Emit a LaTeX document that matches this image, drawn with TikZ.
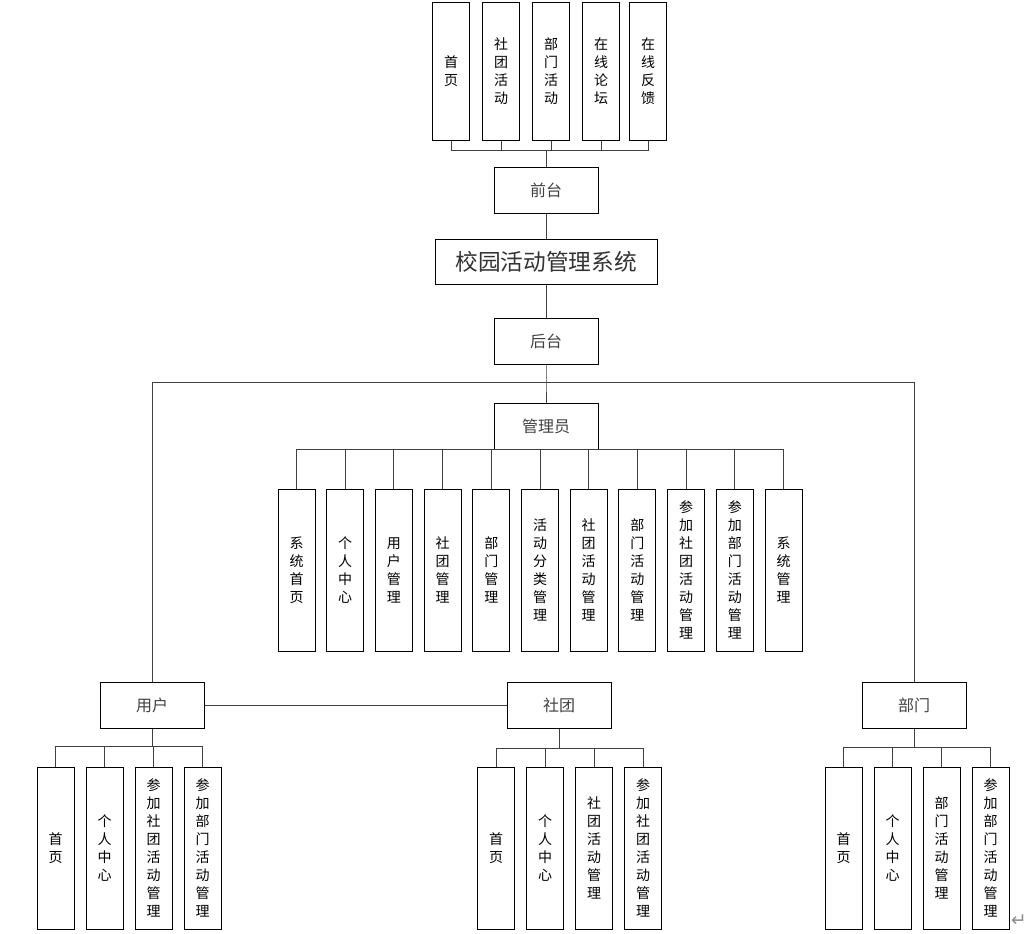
\documentclass[tikz,border=0pt]{standalone}
\usepackage{fontspec}
\setmainfont{Noto Sans CJK SC}
\newfontfamily\markfont{DejaVu Sans}
\usetikzlibrary{positioning}

\begin{document}
\begin{tikzpicture}
  [
  x=0.75pt, y=-0.75pt, line width=0.75pt, draw=black,
  font=\fontsize{10.5}{13.5}\selectfont,
  levelnode/.style={rectangle, draw=black, inner sep=0pt, minimum width=78pt, minimum height=34.5pt, text=black!75, font=\fontsize{12}{14}\selectfont},
  titlenode/.style={rectangle, draw=black, inner sep=0pt, minimum width=166.5pt, minimum height=33.75pt, text=black!80, font=\fontsize{17}{20}\selectfont},
  topnode/.style={rectangle, draw=black, inner sep=0pt, minimum width=27.75pt, minimum height=103.5pt, align=center},
  leafnode/.style={rectangle, draw=black, inner sep=0pt, minimum width=27.75pt, minimum height=121.5pt, align=center},
  link/.style={draw=black!75, line width=0.75pt},
  ]
  \useasboundingbox (0,0) rectangle (1035,933);

  % main line
  \node[titlenode] (sys) at (546,261.5) {校园活动管理系统};
  \node[levelnode] (qt) at (546,190) {前台};
  \node[levelnode] (ht) at (546,341) {后台};
  \node[levelnode] (gly) at (546,426) {管理员};
  \node[levelnode] (yh) at (152,705) {用户};
  \node[levelnode] (st) at (559,705) {社团};
  \node[levelnode] (bm) at (914,705) {部门};

  \draw[link] (qt.south) -- (sys.north);
  \draw[link] (sys.south) -- (ht.north);
  \coordinate (split) at (546,382);
  \draw[link] (ht.south) -- (split) -- (gly.north);
  \draw[link] (yh.north) |- (split) -| (bm.north);
  \draw[link] (yh.east) -- (st.west);

  % front end
  \coordinate (tbus) at (546,150);
  \foreach \lbl/\x [count=\i] in {{首\\页}/451,{社\\团\\活\\动}/501,{部\\门\\活\\动}/551,{在\\线\\论\\坛}/601,{在\\线\\反\\馈}/648} {
    \node[topnode] (t\i) at (\x,71) {\lbl};
    \draw[link] (t\i.south) |- (tbus) -- (qt.north);
  }

  % admin
  \foreach \lbl [count=\i] in {{系\\统\\首\\页},{个\\人\\中\\心},{用\\户\\管\\理},{社\\团\\管\\理},{部\\门\\管\\理},{活\\动\\分\\类\\管\\理},{社\\团\\活\\动\\管\\理},{部\\门\\活\\动\\管\\理},{参\\加\\社\\团\\活\\动\\管\\理},{参\\加\\部\\门\\活\\动\\管\\理},{系\\统\\管\\理}} {
    \node[leafnode] (a\i) at ({296.5+48.7*(\i-1)},570) {\lbl};
    \draw[link] (a\i.north) |- (gly.south);
  }

  % user
  \coordinate (ubus) at (152,746);
  \foreach \lbl [count=\i] in {{首\\页},{个\\人\\中\\心},{参\\加\\社\\团\\活\\动\\管\\理},{参\\加\\部\\门\\活\\动\\管\\理}} {
    \node[leafnode] (u\i) at ({55.5+49*(\i-1)},848) {\lbl};
    \draw[link] (u\i.north) |- (ubus) -- (yh.south);
  }

  % club
  \coordinate (sbus) at (559,748);
  \foreach \lbl [count=\i] in {{首\\页},{个\\人\\中\\心},{社\\团\\活\\动\\管\\理},{参\\加\\社\\团\\活\\动\\管\\理}} {
    \node[leafnode] (s\i) at ({496+49*(\i-1)},848) {\lbl};
    \draw[link] (s\i.north) |- (sbus) -- (st.south);
  }

  % department
  \coordinate (bbus) at (914,747);
  \foreach \lbl [count=\i] in {{首\\页},{个\\人\\中\\心},{部\\门\\活\\动\\管\\理},{参\\加\\部\\门\\活\\动\\管\\理}} {
    \node[leafnode] (b\i) at ({843.5+49*(\i-1)},848) {\lbl};
    \draw[link] (b\i.north) |- (bbus) -- (bm.south);
  }

  \node[text=black!45, font=\markfont\fontsize{14}{14}\selectfont] (pmark) at (1019,921) {↵};

\end{tikzpicture}
\end{document}
